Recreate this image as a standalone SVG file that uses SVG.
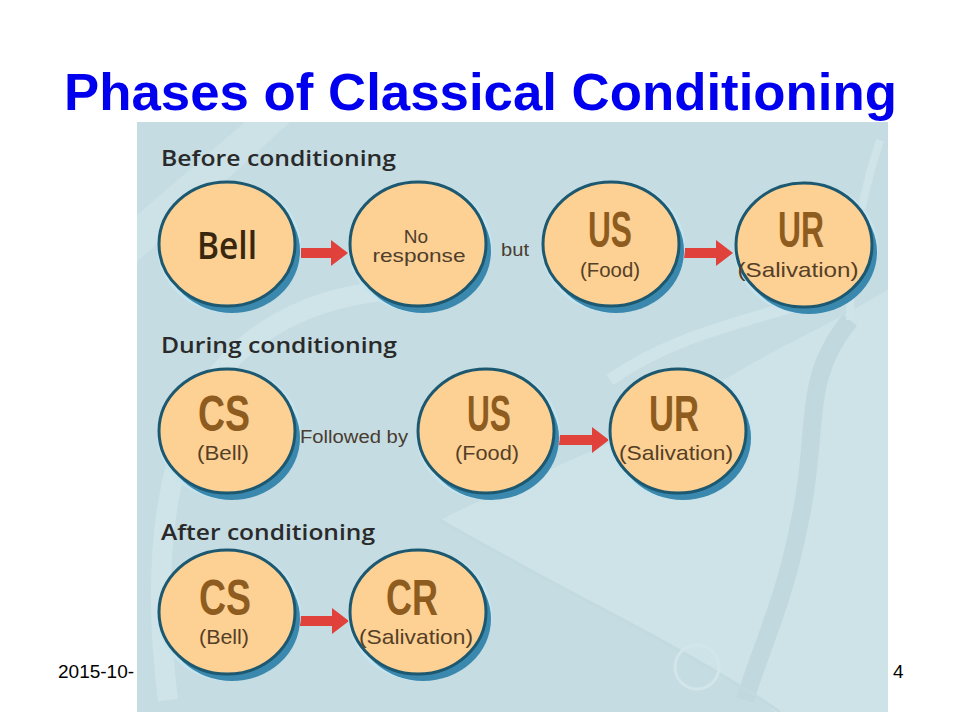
<svg xmlns="http://www.w3.org/2000/svg" width="960" height="720" viewBox="0 0 960 720">
<defs>
<style>
.title{font-family:"Liberation Sans",Arial,sans-serif;font-weight:bold;font-size:52px;fill:#0000ee}
.foot{font-family:"Liberation Sans",Arial,sans-serif;font-size:19px;fill:#000}
.phase{font-family:"Open Sans","Liberation Sans",sans-serif;font-weight:600;font-size:21px;fill:#2a2a2a}
.halo{fill:#c6e4ee}
.shadow{fill:#3a88ae}
.disc{fill:#fdd093;stroke:#1c5870;stroke-width:3}
.big{font-family:"Liberation Sans",Arial,sans-serif;font-weight:bold;font-size:50px;fill:#8e5c1e;text-anchor:middle}
.bell{font-family:"Open Sans","Liberation Sans",sans-serif;font-weight:600;font-size:38px;fill:#38260f;text-anchor:middle}
.sub{font-family:"Liberation Sans",Arial,sans-serif;font-size:21px;fill:#553f27;text-anchor:middle}
.small{font-family:"Liberation Sans",Arial,sans-serif;font-size:19px;fill:#4f3e2c;text-anchor:middle}
.lbl{font-family:"Liberation Sans",Arial,sans-serif;font-size:18px;fill:#4a3c30}
.arrow{fill:#e0413a}
.deco{fill:none;stroke:#cfe4e9}
</style>
<clipPath id="panelClip"><rect x="137" y="122" width="751" height="590"/></clipPath>
</defs>
<rect width="960" height="720" fill="#ffffff"/>
<text class="title" x="64" y="110" textLength="833" lengthAdjust="spacingAndGlyphs">Phases of Classical Conditioning</text>
<text class="foot" x="58" y="678">2015-10-</text>
<text class="foot" x="893" y="678">4</text>

<g id="panel-background">
<rect x="137" y="122" width="751" height="590" fill="#c4dce2"/>
<g clip-path="url(#panelClip)">
<path d="M137 215 L245 122 L290 122 L137 262 Z" fill="#cce2e7"/>
<path d="M168 700 C150 560 165 430 230 360 C290 300 370 285 450 290" class="deco" stroke-width="20"/>
<path d="M440 520 C540 470 630 440 700 395 C760 355 820 330 870 300 L888 290 L888 712 L775 712 C700 650 560 590 440 520 Z" fill="#cee3e8"/>
<path d="M850 320 C800 380 820 430 800 520 C785 600 760 650 745 700" fill="none" stroke="#c0d8de" stroke-width="18"/>
<path d="M610 380 C680 330 760 320 860 285" class="deco" stroke-width="12"/>
<path d="M440 520 C560 590 690 650 780 712" fill="none" stroke="#c2dae0" stroke-width="3"/>
<circle cx="697" cy="667" r="22" fill="none" stroke="#d2e6ea" stroke-width="3"/>
<path d="M880 140 C860 200 850 260 850 320" class="deco" stroke-width="8"/>
</g>
</g>

<g id="phase-labels">
<text class="phase" x="161" y="166" textLength="235" lengthAdjust="spacingAndGlyphs">Before conditioning</text>
<text class="phase" x="161" y="353" textLength="236" lengthAdjust="spacingAndGlyphs">During conditioning</text>
<text class="phase" x="161" y="540" textLength="214" lengthAdjust="spacingAndGlyphs">After conditioning</text>
<text class="lbl" x="501" y="256" textLength="28" lengthAdjust="spacingAndGlyphs">but</text>
<text class="lbl" x="300" y="443" textLength="108" lengthAdjust="spacingAndGlyphs">Followed by</text>
</g>

<g id="connectors">
<path class="arrow" d="M301 248 L331 248 L331 240 L348 253 L331 266 L331 258 L301 258 Z"/>
<path class="arrow" d="M683 248 L716 248 L716 240 L733 253 L716 266 L716 258 L683 258 Z"/>
<path class="arrow" d="M559 435 L592 435 L592 427 L609 440 L592 453 L592 445 L559 445 Z"/>
<path class="arrow" d="M297 616 L332 616 L332 608 L349 621 L332 634 L332 626 L297 626 Z"/>
</g>

<g id="n-bell" transform="translate(227,244)">
<ellipse class="halo" cx="2" cy="3" rx="72" ry="66"/>
<ellipse class="shadow" cx="5" cy="7" rx="68" ry="62"/>
<ellipse class="disc" rx="68" ry="62"/>
<text class="bell" x="0" y="15" textLength="60" lengthAdjust="spacingAndGlyphs">Bell</text>
</g>
<g id="n-noresponse" transform="translate(418,244)">
<ellipse class="halo" cx="2" cy="3" rx="72" ry="66"/>
<ellipse class="shadow" cx="5" cy="7" rx="68" ry="62"/>
<ellipse class="disc" rx="68" ry="62"/>
<text class="small" x="-2" y="-1">No</text>
<text class="small" x="1" y="18" textLength="93" lengthAdjust="spacingAndGlyphs">response</text>
</g>
<g id="n-us1" transform="translate(611,244)">
<ellipse class="halo" cx="2" cy="3" rx="72" ry="66"/>
<ellipse class="shadow" cx="5" cy="7" rx="68" ry="62"/>
<ellipse class="disc" rx="68" ry="62"/>
<text class="big" x="-1" y="3" textLength="44" lengthAdjust="spacingAndGlyphs">US</text>
<text class="sub" x="-1" y="33" textLength="60" lengthAdjust="spacingAndGlyphs">(Food)</text>
</g>
<g id="n-ur1" transform="translate(804,245)">
<ellipse class="halo" cx="2" cy="3" rx="72" ry="66"/>
<ellipse class="shadow" cx="5" cy="7" rx="68" ry="62"/>
<ellipse class="disc" rx="68" ry="62"/>
<text class="big" x="-3" y="2" textLength="46" lengthAdjust="spacingAndGlyphs">UR</text>
<text class="sub" x="-6" y="32" textLength="121" lengthAdjust="spacingAndGlyphs">(Salivation)</text>
</g>

<g id="n-cs2" transform="translate(227,431)">
<ellipse class="halo" cx="2" cy="3" rx="72" ry="66"/>
<ellipse class="shadow" cx="5" cy="7" rx="68" ry="62"/>
<ellipse class="disc" rx="68" ry="62"/>
<text class="big" x="-3" y="0" textLength="52" lengthAdjust="spacingAndGlyphs">CS</text>
<text class="sub" x="-4" y="29" textLength="52" lengthAdjust="spacingAndGlyphs">(Bell)</text>
</g>
<g id="n-us2" transform="translate(486,431)">
<ellipse class="halo" cx="2" cy="3" rx="72" ry="66"/>
<ellipse class="shadow" cx="5" cy="7" rx="68" ry="62"/>
<ellipse class="disc" rx="68" ry="62"/>
<text class="big" x="3" y="0" textLength="44" lengthAdjust="spacingAndGlyphs">US</text>
<text class="sub" x="1" y="29" textLength="64" lengthAdjust="spacingAndGlyphs">(Food)</text>
</g>
<g id="n-ur2" transform="translate(678,431)">
<ellipse class="halo" cx="2" cy="3" rx="72" ry="66"/>
<ellipse class="shadow" cx="5" cy="7" rx="68" ry="62"/>
<ellipse class="disc" rx="68" ry="62"/>
<text class="big" x="-4" y="0" textLength="50" lengthAdjust="spacingAndGlyphs">UR</text>
<text class="sub" x="-2" y="29" textLength="114" lengthAdjust="spacingAndGlyphs">(Salivation)</text>
</g>

<g id="n-cs3" transform="translate(227,612)">
<ellipse class="halo" cx="2" cy="3" rx="72" ry="66"/>
<ellipse class="shadow" cx="5" cy="7" rx="68" ry="62"/>
<ellipse class="disc" rx="68" ry="62"/>
<text class="big" x="-2" y="3" textLength="52" lengthAdjust="spacingAndGlyphs">CS</text>
<text class="sub" x="-3" y="32" textLength="50" lengthAdjust="spacingAndGlyphs">(Bell)</text>
</g>
<g id="n-cr3" transform="translate(418,612)">
<ellipse class="halo" cx="2" cy="3" rx="72" ry="66"/>
<ellipse class="shadow" cx="5" cy="7" rx="68" ry="62"/>
<ellipse class="disc" rx="68" ry="62"/>
<text class="big" x="-6" y="3" textLength="52" lengthAdjust="spacingAndGlyphs">CR</text>
<text class="sub" x="-2" y="32" textLength="114" lengthAdjust="spacingAndGlyphs">(Salivation)</text>
</g>
</svg>
